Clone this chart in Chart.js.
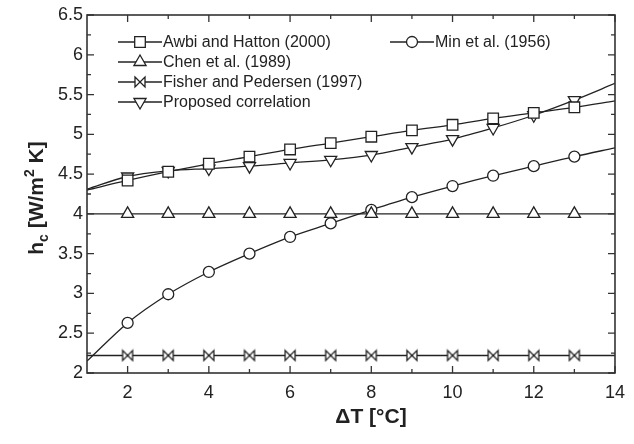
<!DOCTYPE html>
<html>
<head>
<meta charset="utf-8">
<script src="https://cdn.jsdelivr.net/npm/chart.js@4/dist/chart.umd.min.js"></script>
<style>
  html, body { margin: 0; padding: 0; background: #fff; }
  canvas { display: block; }
</style>
</head>
<body>
<canvas id="myChart" width="634" height="444"></canvas>
<script>
// values
const deltaT = [1, 2, 3, 4, 5, 6, 7, 8, 9, 10, 11, 12, 13, 14];
const awbiHatton = [4.30, 4.42, 4.53, 4.63, 4.72, 4.81, 4.89, 4.97, 5.05, 5.12, 5.20, 5.27, 5.34, 5.42];
const chen = [4, 4, 4, 4, 4, 4, 4, 4, 4, 4, 4, 4, 4, 4];
const fisherPedersen = [2.22, 2.22, 2.22, 2.22, 2.22, 2.22, 2.22, 2.22, 2.22, 2.22, 2.22, 2.22, 2.22, 2.22];
const proposed = [4.31, 4.47, 4.54, 4.57, 4.60, 4.64, 4.68, 4.74, 4.84, 4.94, 5.08, 5.24, 5.43, 5.64];
const minEtAl = [2.15, 2.63, 2.99, 3.27, 3.50, 3.71, 3.88, 4.05, 4.21, 4.35, 4.48, 4.60, 4.72, 4.83];

const xTicks = [2, 4, 6, 8, 10, 12, 14];
const xMinorTicks = [3, 5, 7, 9, 11, 13];
const yTicks = [2, 2.5, 3, 3.5, 4, 4.5, 5, 5.5, 6, 6.5];
const yMinorTicks = [2.25, 2.75, 3.25, 3.75, 4.25, 4.75, 5.25, 5.75, 6.25];

const ink = "#222";
const font = "'Liberation Sans', Arial, Helvetica, sans-serif";

function bowtie() {
  const c = document.createElement("canvas");
  c.width = 14;
  c.height = 14;
  const g = c.getContext("2d");
  g.lineWidth = 1.3;
  g.strokeStyle = ink;
  g.fillStyle = "#fff";
  g.beginPath();
  g.moveTo(2, 2);
  g.lineTo(12, 12);
  g.lineTo(12, 2);
  g.lineTo(2, 12);
  g.closePath();
  g.fill();
  g.stroke();
  return c;
}

// no markers at the curve ends (x = 1 and x = 14)
function radii(r) {
  return deltaT.map((v, i) => (i === 0 || i === deltaT.length - 1 ? 0 : r));
}

function series(label, values, style, r, rotation) {
  return {
    label: label,
    data: deltaT.map((x, i) => ({ x: x, y: values[i] })),
    borderColor: ink,
    borderWidth: 1.3,
    pointBorderColor: ink,
    pointBackgroundColor: "#fff",
    pointBorderWidth: 1.3,
    pointStyle: style,
    pointRadius: radii(r),
    pointHoverRadius: radii(r),
    pointRotation: rotation || 0,
    cubicInterpolationMode: "monotone",
    fill: false,
  };
}

const bow = bowtie();
const datasets = [
  series("Awbi and Hatton (2000)", awbiHatton, "rect", 7.5),
  series("Chen et al. (1989)", chen, "triangle", 7),
  series("Fisher and Pedersen (1997)", fisherPedersen, bow, 6),
  series("Proposed correlation", proposed, "triangle", 7, 180),
  series("Min et al. (1956)", minEtAl, "circle", 5.5),
];

const frame = {
  id: "frame",
  afterDraw(chart) {
    const { ctx, chartArea: a, scales } = chart;
    const x = scales.x;
    const y = scales.y;
    ctx.save();
    ctx.strokeStyle = "#333";
    ctx.lineWidth = 1.6;
    ctx.strokeRect(a.left, a.top, a.right - a.left, a.bottom - a.top);

    ctx.lineWidth = 1.3;
    ctx.beginPath();
    const xt = (v, len) => {
      const px = x.getPixelForValue(v);
      ctx.moveTo(px, a.bottom);
      ctx.lineTo(px, a.bottom - len);
      ctx.moveTo(px, a.top);
      ctx.lineTo(px, a.top + len);
    };
    const yt = (v, len) => {
      const py = y.getPixelForValue(v);
      ctx.moveTo(a.left, py);
      ctx.lineTo(a.left + len, py);
      ctx.moveTo(a.right, py);
      ctx.lineTo(a.right - len, py);
    };
    xTicks.forEach((v) => xt(v, 7));
    xMinorTicks.forEach((v) => xt(v, 4));
    yTicks.forEach((v) => yt(v, 7));
    yMinorTicks.forEach((v) => yt(v, 4));
    ctx.stroke();

    // legend
    const drawItem = (ds, lx, ly) => {
      ctx.strokeStyle = ink;
      ctx.lineWidth = 1.3;
      ctx.beginPath();
      ctx.moveTo(lx, ly);
      ctx.lineTo(lx + 44, ly);
      ctx.stroke();
      ctx.fillStyle = "#fff";
      Chart.helpers.drawPoint(ctx, {
        pointStyle: ds.pointStyle,
        radius: Math.max(...ds.pointRadius),
        rotation: ds.pointRotation,
        borderWidth: 1.3,
      }, lx + 22, ly);
      ctx.fillStyle = ink;
      ctx.font = "16px " + font;
      ctx.textAlign = "left";
      ctx.textBaseline = "middle";
      ctx.fillText(ds.label, lx + 45, ly + 1);
    };
    for (let i = 0; i < 4; i++) drawItem(datasets[i], 118, 42 + i * 20);
    drawItem(datasets[4], 390, 42);

    // axis titles
    ctx.fillStyle = ink;
    ctx.font = "bold 21px " + font;
    ctx.textAlign = "center";
    ctx.textBaseline = "alphabetic";
    ctx.fillText("\u0394T [\u00B0C]", 371, 423);

    ctx.save();
    ctx.translate(43, 198);
    ctx.rotate(-Math.PI / 2);
    const big = "bold 21px " + font;
    const small = "bold 14px " + font;
    const parts = [
      ["h", big, 0],
      ["c", small, 5],
      [" [W/m", big, 0],
      ["2", small, -9],
      [" K]", big, 0],
    ];
    let total = 0;
    parts.forEach((p) => {
      ctx.font = p[1];
      total += ctx.measureText(p[0]).width;
    });
    let cx = -total / 2;
    ctx.textAlign = "left";
    parts.forEach((p) => {
      ctx.font = p[1];
      ctx.fillText(p[0], cx, p[2]);
      cx += ctx.measureText(p[0]).width;
    });
    ctx.restore();
    ctx.restore();
  },
};

const ctx = document.getElementById("myChart").getContext("2d");
const myChart = new Chart(ctx, {
  type: "line",
  data: { datasets: datasets },
  options: {
    responsive: false,
    animation: false,
    events: [],
    layout: { padding: { top: 15, right: 10, left: 0, bottom: 0 } },
    plugins: {
      legend: { display: false },
      tooltip: { enabled: false },
    },
    scales: {
      x: {
        type: "linear",
        min: 1,
        max: 14,
        grid: { display: false, drawTicks: false },
        border: { display: false },
        afterBuildTicks: (s) => { s.ticks = xTicks.map((v) => ({ value: v })); },
        afterFit: (s) => { s.height = 71; },
        ticks: {
          autoSkip: false,
          maxRotation: 0,
          padding: 9,
          color: ink,
          font: { family: font, size: 18 },
          callback: (v) => String(v),
        },
      },
      y: {
        min: 2,
        max: 6.5,
        grid: { display: false, drawTicks: false },
        border: { display: false },
        afterBuildTicks: (s) => { s.ticks = yTicks.map((v) => ({ value: v })); },
        afterFit: (s) => { s.width = 87; },
        ticks: {
          autoSkip: false,
          padding: 4,
          color: ink,
          font: { family: font, size: 18 },
          callback: (v) => String(v),
        },
      },
    },
  },
  plugins: [frame],
});
</script>
</body>
</html>
